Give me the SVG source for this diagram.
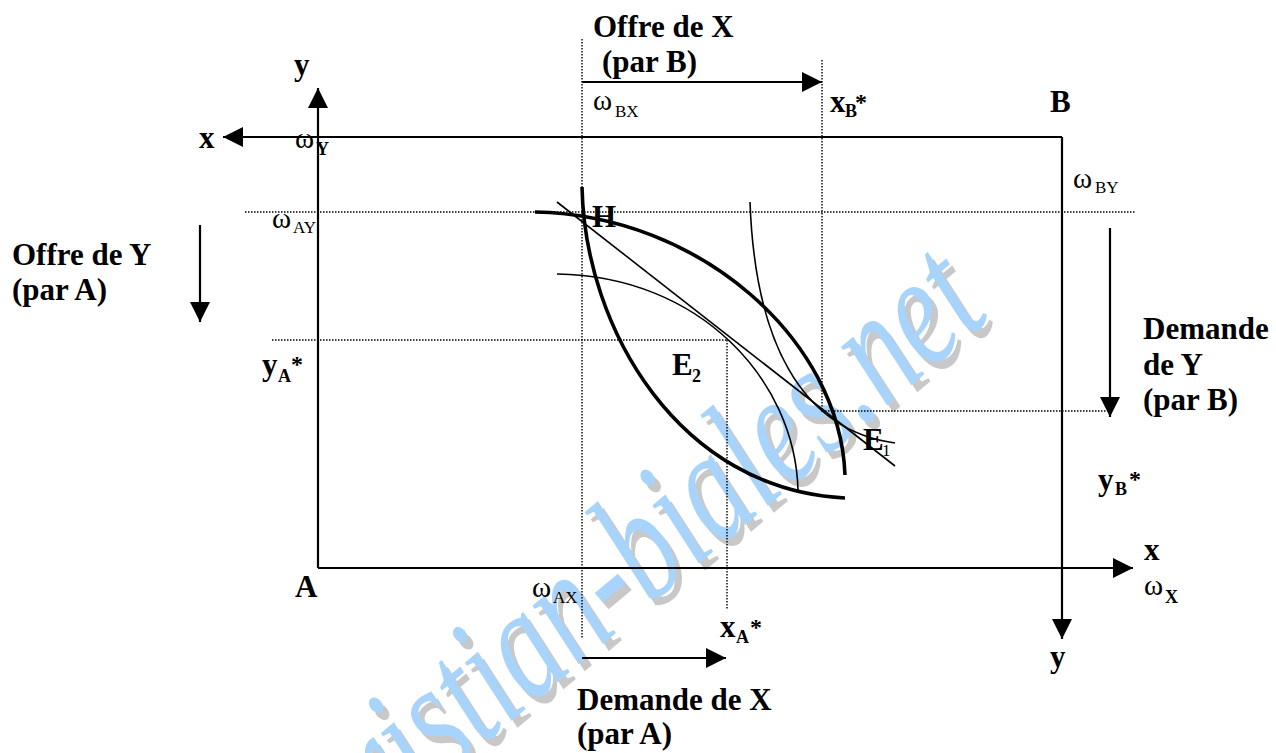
<svg xmlns="http://www.w3.org/2000/svg" width="1276" height="753" viewBox="0 0 1276 753">
<style>
.t{font-family:"Liberation Serif","Times New Roman",serif;font-weight:bold;font-size:31px;fill:#000}
.om{font-family:"Liberation Serif","Times New Roman",serif;font-size:29px;fill:#000}
.sub{font-family:"Liberation Serif","Times New Roman",serif;font-size:17px;fill:#000}
.sb{font-family:"Liberation Serif","Times New Roman",serif;font-size:18px;font-weight:bold;fill:#000}
.st{font-family:"Liberation Serif","Times New Roman",serif;font-size:24px;font-weight:bold;fill:#000}
.ax{stroke:#000;stroke-width:2.2;fill:none}
.dot{stroke:#000;stroke-width:1.4;stroke-dasharray:1.5 1.5;fill:none}
.thick{stroke:#000;stroke-width:3.6;fill:none}
.thin{stroke:#000;stroke-width:1.6;fill:none}
.wm{font-family:"Liberation Serif","Times New Roman",serif;font-style:italic;font-size:116px}
</style>
<defs>
<marker id="ah" viewBox="0 0 20 20" refX="20" refY="10" markerWidth="20" markerHeight="20" markerUnits="userSpaceOnUse" orient="auto">
<path d="M0,0 L20,10 L0,20 z" fill="#000"/>
</marker>
</defs>
<rect width="1276" height="753" fill="#fff"/>
<g id="watermark">
<text class="wm" fill="#c8c8c8" transform="matrix(0.766,-0.643,0.900,1.072,310,902)">christian-biales.net</text>
<text class="wm" fill="#a8d4fc" transform="matrix(0.766,-0.643,0.900,1.072,304,895)">christian-biales.net</text>
</g>
<g id="connectors">
<line class="ax" x1="318" y1="568" x2="318" y2="88" marker-end="url(#ah)"/>
<line class="ax" x1="318" y1="568" x2="1133" y2="568" marker-end="url(#ah)"/>
<line class="ax" x1="1062" y1="137" x2="223" y2="137" marker-end="url(#ah)"/>
<line class="ax" x1="1062" y1="137" x2="1062" y2="639" marker-end="url(#ah)"/>
<line class="dot" x1="582" y1="39" x2="582" y2="639"/>
<line class="dot" x1="822" y1="60" x2="822" y2="412"/>
<line class="dot" x1="245" y1="212" x2="1135" y2="212"/>
<line class="dot" x1="272" y1="340" x2="727" y2="340"/>
<line class="dot" x1="727" y1="340" x2="727" y2="609"/>
<line class="dot" x1="822" y1="411" x2="1110" y2="411"/>
<line class="ax" x1="582" y1="82" x2="822" y2="82" marker-end="url(#ah)"/>
<line class="ax" x1="200" y1="225" x2="200" y2="322" marker-end="url(#ah)"/>
<line class="ax" x1="1110" y1="228" x2="1110" y2="417" marker-end="url(#ah)"/>
<line class="ax" x1="582" y1="658" x2="726" y2="658" marker-end="url(#ah)"/>
</g>
<g id="curves">
<path class="thick" d="M535,212 C700,215 840,340 845,475"/>
<path class="thick" d="M582,187 C585,330 680,490 845,498"/>
<line class="thin" x1="557" y1="202" x2="895" y2="466"/>
<path class="thin" d="M557,274 C700,276 795,380 798,490"/>
<path class="thin" d="M750,202 C755,340 800,430 895,443"/>
</g>
<g id="label-offre-x">
<text class="t" x="593" y="37">Offre de X</text>
<text class="t" x="602" y="72">(par B)</text>
</g>
<g id="label-offre-y">
<text class="t" x="12" y="265">Offre de Y</text>
<text class="t" x="12" y="300">(par A)</text>
</g>
<g id="label-demande-y">
<text class="t" x="1143" y="339">Demande</text>
<text class="t" x="1143" y="375">de Y</text>
<text class="t" x="1143" y="410">(par B)</text>
</g>
<g id="label-demande-x">
<text class="t" x="577" y="710">Demande de X</text>
<text class="t" x="577" y="744">(par A)</text>
</g>
<g id="axis-labels">
<text class="t" x="294" y="75">y</text>
<text class="t" x="199" y="148">x</text>
<text class="t" x="1050" y="112">B</text>
<text class="t" x="295" y="597">A</text>
<text class="t" x="1144" y="560">x</text>
<text class="t" x="1050" y="667">y</text>
</g>
<g id="omega-labels">
<text class="om" x="295" y="148">ω</text><text class="sb" x="316" y="155">Y</text>
<text class="om" x="593" y="110">ω</text><text class="sub" x="615" y="117">BX</text>
<text class="om" x="1073" y="188">ω</text><text class="sub" x="1095" y="193">BY</text>
<text class="om" x="272" y="228">ω</text><text class="sub" x="293" y="233">AY</text>
<text class="om" x="532" y="597">ω</text><text class="sub" x="553" y="603">AX</text>
<text class="om" x="1144" y="595">ω</text><text class="sb" x="1165" y="603">X</text>
</g>
<g id="equilibrium-labels">
<text class="t" x="830" y="112">x</text><text class="sb" x="845" y="117">B</text><text class="st" x="855" y="110">*</text>
<text class="t" x="262" y="375">y</text><text class="sb" x="278" y="382">A</text><text class="st" x="291" y="372">*</text>
<text class="t" x="1098" y="490">y</text><text class="sb" x="1115" y="495">B</text><text class="st" x="1129" y="487">*</text>
<text class="t" x="720" y="637">x</text><text class="sb" x="736" y="643">A</text><text class="st" x="750" y="635">*</text>
<text class="t" x="592" y="227">H</text>
<text class="t" x="672" y="375">E</text><text class="sb" x="692" y="382">2</text>
<text class="t" x="863" y="450">E</text><text class="sub" x="882" y="456">1</text>
</g>
</svg>
